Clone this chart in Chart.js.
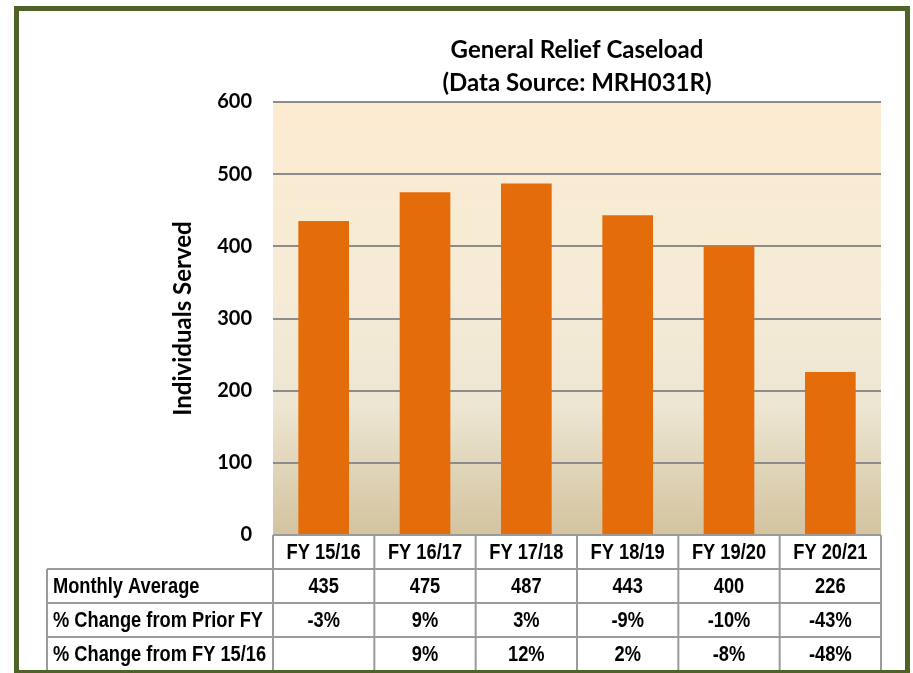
<!DOCTYPE html>
<html>
<head>
<meta charset="utf-8">
<script src="https://cdn.jsdelivr.net/npm/chart.js@4"></script>
<style>
  html, body { margin: 0; padding: 0; background: #fff; }
  #wrap { position: absolute; left: 0; top: 0; width: 913px; height: 673px; }
</style>
</head>
<body>
<div id="wrap"><canvas id="myChart" width="913" height="673"></canvas></div>
<script>
const fiscalYears = ["FY 15/16", "FY 16/17", "FY 17/18", "FY 18/19", "FY 19/20", "FY 20/21"];
const monthlyAverage = [435, 475, 487, 443, 400, 226];
const changePriorFY = ["-3%", "9%", "3%", "-9%", "-10%", "-43%"];
const changeFromBase = ["", "9%", "12%", "2%", "-8%", "-48%"];
const rowLabels = ["Monthly Average", "% Change from Prior FY", "% Change from FY 15/16"];

// no narrow font installed, so squeeze Liberation Sans Bold horizontally
const tableFont = 'bold 22px "Liberation Sans", Arial, sans-serif';
const squeeze = 0.83;
const lineGray = "#9a9a9a";

// plot background gradient
const plotBackground = {
  id: "plotBackground",
  beforeDraw(chart) {
    const { ctx, chartArea: a } = chart;
    const g = ctx.createLinearGradient(0, a.top, 0, a.bottom);
    g.addColorStop(0, "#fdebd1");
    g.addColorStop(0.45, "#f5ebd6");
    g.addColorStop(0.7, "#ede6d2");
    g.addColorStop(1, "#d3c39f");
    ctx.save();
    ctx.fillStyle = g;
    ctx.fillRect(a.left, a.top, a.right - a.left, a.bottom - a.top);
    ctx.restore();
  }
};

const squeezedText = (ctx, txt, x, y) => {
  ctx.save();
  ctx.translate(x, y);
  ctx.scale(squeeze, 1);
  ctx.fillText(txt, 0, 0);
  ctx.restore();
};

// data table under the plot + green frame
const dataTable = {
  id: "dataTable",
  afterDraw(chart) {
    const { ctx, chartArea: a } = chart;
    const x = chart.scales.x;
    const colW = (a.right - a.left) / fiscalYears.length;
    const rowY = [a.bottom, 569, 603, 637, 671];
    const tableLeft = 47;
    const rows = [monthlyAverage.map(String), changePriorFY, changeFromBase];

    ctx.save();
    ctx.strokeStyle = lineGray;
    ctx.lineWidth = 2;
    ctx.beginPath();
    ctx.moveTo(a.left, rowY[0]); ctx.lineTo(a.right, rowY[0]);
    for (let r = 1; r < rowY.length; r++) {
      ctx.moveTo(tableLeft, rowY[r]); ctx.lineTo(a.right, rowY[r]);
    }
    for (let i = 0; i <= fiscalYears.length; i++) {
      const px = a.left + i * colW;
      ctx.moveTo(px, rowY[0]); ctx.lineTo(px, rowY[4]);
    }
    ctx.moveTo(tableLeft, rowY[1]); ctx.lineTo(tableLeft, rowY[4]);
    ctx.stroke();

    ctx.fillStyle = "#000";
    ctx.font = tableFont;
    ctx.textBaseline = "middle";
    ctx.textAlign = "center";
    fiscalYears.forEach((fy, i) => {
      const cx = x.getPixelForValue(i);
      squeezedText(ctx, fy, cx, (rowY[0] + rowY[1]) / 2 + 1);
      rows.forEach((row, r) => {
        squeezedText(ctx, row[i], cx, (rowY[r + 1] + rowY[r + 2]) / 2 + 1);
      });
    });
    ctx.textAlign = "left";
    rowLabels.forEach((lab, r) => {
      squeezedText(ctx, lab, 53, (rowY[r + 1] + rowY[r + 2]) / 2 + 1);
    });

    // outer frame
    ctx.strokeStyle = "#4f6228";
    ctx.lineWidth = 5;
    ctx.strokeRect(16.5, 8.5, 891, 664);
    ctx.restore();
  }
};

new Chart(document.getElementById("myChart"), {
  type: "bar",
  data: {
    labels: fiscalYears,
    datasets: [{
      label: "Monthly Average",
      data: monthlyAverage,
      backgroundColor: "#e46c0a",
      borderWidth: 0,
      barPercentage: 0.5,
      categoryPercentage: 1
    }]
  },
  options: {
    responsive: false,
    animation: false,
    devicePixelRatio: 1,
    layout: { padding: { left: 165, right: 32, top: 0, bottom: 138 } },
    plugins: {
      legend: { display: false },
      tooltip: { enabled: false },
      title: {
        display: true,
        fullSize: false,
        text: ["General Relief Caseload", "(Data Source: MRH031R)"],
        color: "#000",
        font: { family: "Lato", size: 24, weight: "bold", lineHeight: 1.375 },
        padding: { top: 33.5, bottom: 2.5 }
      }
    },
    scales: {
      x: { display: false },
      y: {
        min: 0,
        max: 600,
        afterFit(scale) { scale.width = 108; },
        ticks: {
          stepSize: 100,
          padding: 21,
          color: "#000",
          font: { family: "Lato", size: 20, weight: "bold" }
        },
        grid: { color: "#8c8c8c", lineWidth: 2, drawTicks: false },
        border: { display: false },
        title: {
          display: true,
          text: "Individuals Served",
          color: "#000",
          font: { family: "Lato", size: 24, weight: "bold" }
        }
      }
    }
  },
  plugins: [plotBackground, dataTable]
});
</script>
</body>
</html>
